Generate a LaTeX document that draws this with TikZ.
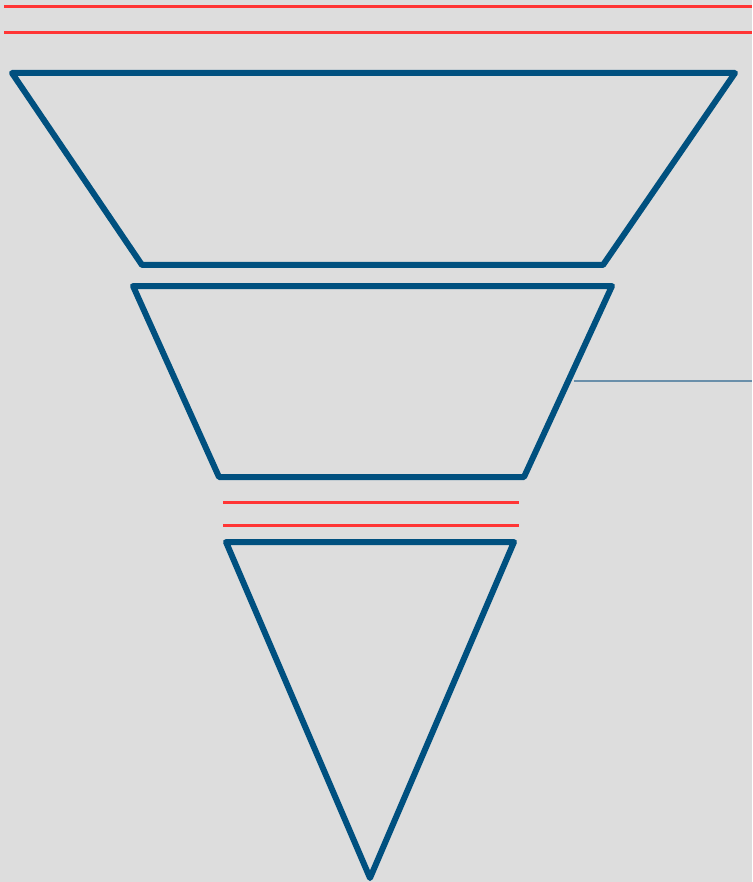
\documentclass[tikz,border=0pt]{standalone}
\definecolor{bgc}{HTML}{DDDDDD}
\definecolor{fblue}{HTML}{00507F}
\definecolor{fred}{HTML}{FF3535}
\definecolor{lblue}{HTML}{6A8FAA}
\tikzset{
  stage/.style={draw=fblue, line width=6pt, line join=round, line cap=round},
  redline/.style={draw=fred, line width=3pt},
  leader/.style={draw=lblue, line width=1.5pt}
}
\begin{document}
\begin{tikzpicture}[x=1pt,y=-1pt]
\fill[bgc] (0,0) rectangle (752,882);
\useasboundingbox (0,0) rectangle (752,882);
% top red lines
\draw[redline] (4,7) -- (752,7);
\draw[redline] (4,33) -- (752,33);
% stage 1
\draw[stage] (12,73) -- (735,73) -- (603,265) -- (142,265) -- cycle;
% stage 2
\draw[stage] (133,286) -- (612,286) -- (524,477) -- (219,477) -- cycle;
% middle red lines
\draw[redline] (223,502) -- (519,502);
\draw[redline] (223,525) -- (519,525);
% stage 3
\draw[stage] (226,542) -- (514,542) -- (370,878) -- cycle;
% leader line
\coordinate (edge) at (574,381);
\coordinate (out) at (752,381);
\draw[leader] (edge) -- (out);
\end{tikzpicture}
\end{document}
